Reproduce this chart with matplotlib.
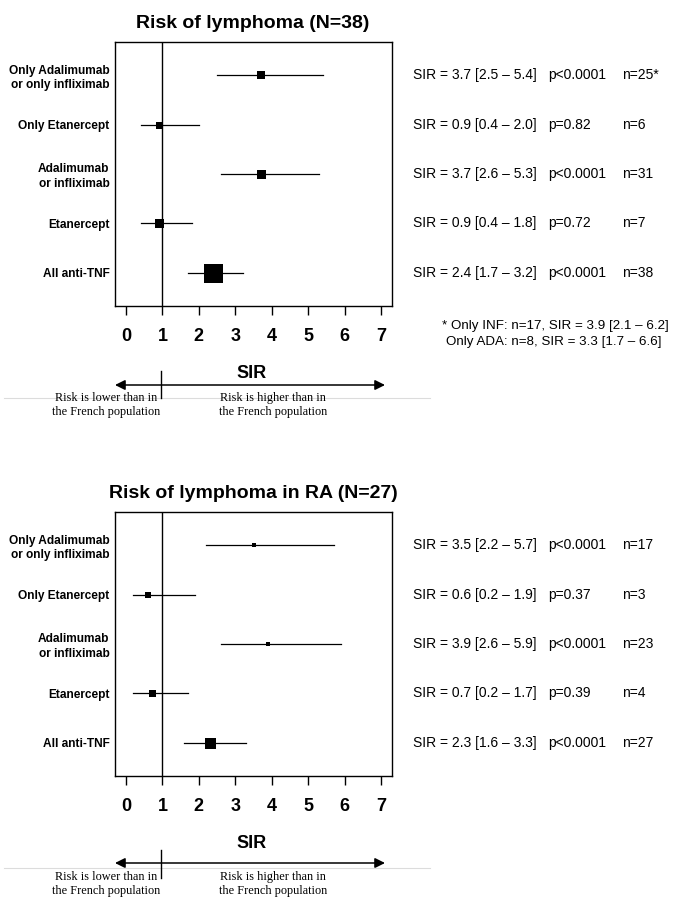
import matplotlib
matplotlib.use("Agg")
import matplotlib.pyplot as plt
from matplotlib.transforms import blended_transform_factory
from matplotlib.lines import Line2D

# ---------------- data ----------------
categories = ["Only Adalimumab\nor only infliximab", "Only Etanercept",
              "Adalimumab\nor infliximab", "Etanercept", "All anti-TNF"]

titles = ["Risk of lymphoma (N=38)", "Risk of lymphoma in RA (N=27)"]

sir_all = [3.7, 0.9, 3.7, 0.9, 2.4]
lo_all = [2.5, 0.4, 2.6, 0.4, 1.7]
hi_all = [5.4, 2.0, 5.3, 1.8, 3.2]
p_all = ["p<0.0001", "p=0.82", "p<0.0001", "p=0.72", "p<0.0001"]
n_all = ["n=25*", "n=6", "n=31", "n=7", "n=38"]

sir_ra = [3.5, 0.6, 3.9, 0.7, 2.3]
lo_ra = [2.2, 0.2, 2.6, 0.2, 1.6]
hi_ra = [5.7, 1.9, 5.9, 1.7, 3.3]
p_ra = ["p<0.0001", "p=0.37", "p<0.0001", "p=0.39", "p<0.0001"]
n_ra = ["n=17", "n=3", "n=23", "n=4", "n=27"]

xticks = [0, 1, 2, 3, 4, 5, 6, 7]
footnote = ["* Only INF: n=17, SIR = 3.9 [2.1 \u2013 6.2]",
            "Only ADA: n=8, SIR = 3.3 [1.7 \u2013 6.6]"]
lower_text = "Risk is lower than in\nthe French population"
higher_text = "Risk is higher than in\nthe French population"

# ---------------- styles ----------------
marker_px_all = [8, 7, 9, 9, 19]
marker_px_ra = [5, 5.5, 4.5, 7, 11]

W, H = 675, 901
fig = plt.figure(figsize=(W / 100, H / 100), dpi=100)
fig.patch.set_facecolor("white")

def fx(px):
    return px / W

def fy(py):
    return 1 - py / H

SANS = ["Liberation Sans", "DejaVu Sans"]
NARROW = ["Liberation Sans Narrow", "Liberation Sans", "DejaVu Sans"]
SERIF = ["Liberation Serif", "DejaVu Serif"]

panels = [
    dict(top=42, bottom=306, title=titles[0], sir=sir_all, lo=lo_all, hi=hi_all,
         p=p_all, n=n_all, msz=marker_px_all, arrow_y=385, gray_y=398,
         vt=(371, 398), txt_y=405, sir_y=373, title_y=24),
    dict(top=512, bottom=776, title=titles[1], sir=sir_ra, lo=lo_ra, hi=hi_ra,
         p=p_ra, n=n_ra, msz=marker_px_ra, arrow_y=863, gray_y=868,
         vt=(850, 878), txt_y=884, sir_y=843, title_y=494),
]

left_px, right_px = 115, 392
x0_px, x7_px = 126, 381
unit = (x7_px - x0_px) / 7.0
xmin = (left_px - x0_px) / unit
xmax = (right_px - x0_px) / unit

for P in panels:
    ax = fig.add_axes([fx(left_px), fy(P["bottom"]), (right_px - left_px) / W,
                       (P["bottom"] - P["top"]) / H])
    ax.set_xlim(xmin, xmax)
    ax.set_ylim(5.667, 0.333)
    for s in ax.spines.values():
        s.set_linewidth(1.0)
        s.set_color("black")
    ys = list(range(1, len(categories) + 1))
    ax.axvline(1, color="black", lw=1.0, zorder=1)
    for y, s, lo, hi, m in zip(ys, P["sir"], P["lo"], P["hi"], P["msz"]):
        ax.plot([lo, hi], [y, y], color="black", lw=0.9, zorder=2)
        ax.plot([s], [y], marker="s", color="black", ms=m * 0.72, mew=0,
                linestyle="none", zorder=3)
    ax.set_yticks(ys)
    ax.set_yticklabels(categories, fontfamily=NARROW, fontweight="bold",
                       fontsize=8.6, linespacing=1.25)
    ax.tick_params(axis="y", length=0, pad=4)
    ax.set_xticks(xticks)
    ax.set_xticklabels([str(t) for t in xticks], fontfamily=SANS,
                       fontweight="bold", fontsize=13)
    ax.tick_params(axis="x", direction="out", length=6.5, width=1.0, pad=9)

    # right-hand annotations
    tr = blended_transform_factory(fig.transFigure, ax.transData)
    for y, s, lo, hi, p, n in zip(ys, P["sir"], P["lo"], P["hi"], P["p"], P["n"]):
        ax.text(fx(413), y, f"SIR = {s:.1f} [{lo:.1f} \u2013 {hi:.1f}]",
                transform=tr, fontsize=10, family=SANS, va="center", ha="left",
                clip_on=False)
        ax.text(fx(548), y, p, transform=tr, fontsize=10, family=SANS,
                va="center", ha="left", clip_on=False)
        ax.text(fx(622), y, n, transform=tr, fontsize=10, family=SANS,
                va="center", ha="left", clip_on=False)

    # title
    fig.text(fx(253), fy(P["title_y"]), P["title"], fontsize=14,
             fontweight="bold", family=SANS, ha="center", va="center")
    # SIR label
    fig.text(fx(252), fy(P["sir_y"]), "SIR", fontsize=13, fontweight="bold",
             family=SANS, ha="center", va="center")
    # gray separator line
    fig.add_artist(Line2D([fx(4), fx(430)], [fy(P["gray_y"])] * 2,
                          color="#dcdcdc", lw=0.8))
    # double arrow
    fig.add_artist(matplotlib.patches.FancyArrowPatch(
        (fx(115), fy(P["arrow_y"])), (fx(385), fy(P["arrow_y"])),
        transform=fig.transFigure, arrowstyle="<|-|>,head_length=6,head_width=3",
        color="black", lw=1.1, shrinkA=0, shrinkB=0))
    # vertical mark at SIR = 1
    fig.add_artist(Line2D([fx(161), fx(161)], [fy(P["vt"][0]), fy(P["vt"][1])],
                          color="black", lw=1.0))
    # explanatory text
    fig.text(fx(106), fy(P["txt_y"]), lower_text, fontsize=8.8, family=SERIF,
             ha="center", va="center", linespacing=1.2)
    fig.text(fx(273), fy(P["txt_y"]), higher_text, fontsize=8.8, family=SERIF,
             ha="center", va="center", linespacing=1.2)

fig.text(fx(442), fy(326), footnote[0], fontsize=9.6, family=SANS,
         ha="left", va="center")
fig.text(fx(446), fy(342), footnote[1], fontsize=9.6, family=SANS,
         ha="left", va="center")

fig.savefig("out.png", dpi=100, facecolor="white")
